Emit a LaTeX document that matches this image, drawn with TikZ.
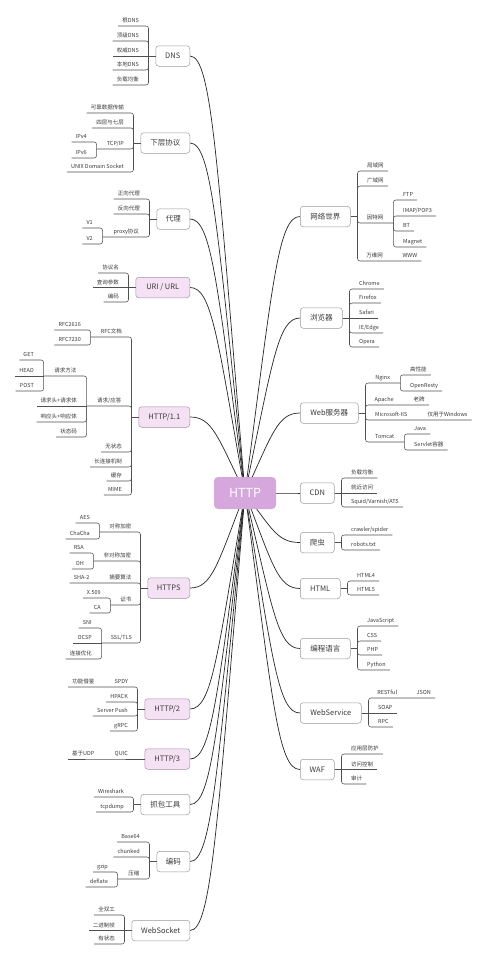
\documentclass[tikz,border=0pt]{standalone}
\usepackage{fontspec}
\setmainfont{Noto Sans CJK SC}
\usetikzlibrary{calc, backgrounds}
\definecolor{hubfill}{HTML}{D6A7DC}
\definecolor{hotfill}{HTML}{F4E2F4}
\definecolor{hotline}{HTML}{A890A8}
\definecolor{topicline}{HTML}{999999}
\definecolor{textgray}{HTML}{3A3A3A}
\definecolor{wiregray}{HTML}{505050}
\definecolor{linkgray}{HTML}{262626}
\tikzset{
  hub/.style={rounded corners=4pt, fill=hubfill, text=white, font=\fontsize{12.5}{14}\selectfont, minimum width=62pt, minimum height=32pt, inner sep=0pt},
  topic/.style={draw=topicline, line width=.5pt, rounded corners=3pt, fill=white, text=textgray, font=\fontsize{7.5}{9}\selectfont, minimum height=20.5pt, inner sep=0pt},
  pinktopic/.style={topic, fill=hotfill, draw=hotline},
  leaf/.style={font=\fontsize{5.5}{6.5}\selectfont, text=textgray, inner xsep=4pt, inner ysep=2pt, text height=4.3pt, text depth=1.2pt},
  midleaf/.style={leaf, inner xsep=0pt},
  wire/.style={draw=wiregray, line width=.55pt, rounded corners=2.5pt},
  link/.style={draw=linkgray, line width=.7pt, to path={let \p1=(\tikztostart), \p2=(\tikztotarget) in .. controls ({\x1+.5*(\x2-\x1)},{\y1+.75*(\y2-\y1)}) and ({\x1+.6*(\x2-\x1)},\y2) .. (\p2)}}
}
\begin{document}
\begin{tikzpicture}[x=1pt, y=-1pt]
\useasboundingbox (0,0) rectangle (490,961);
\node[hub] (http) at (245,493) {HTTP};
% left topics
\node[topic, minimum width=34pt, anchor=east] (dns) at (190,56) {DNS};
\node[topic, minimum width=49pt, anchor=east] (lower) at (190,143) {下层协议};
\node[topic, minimum width=33pt, anchor=east] (proxy) at (190,219) {代理};
\node[pinktopic, minimum width=54pt, anchor=east] (uri) at (190,287.5) {URI / URL};
\node[pinktopic, minimum width=51pt, anchor=east] (h11) at (190,417) {HTTP/1.1};
\node[pinktopic, minimum width=42pt, anchor=east] (https) at (190,588) {HTTPS};
\node[pinktopic, minimum width=45pt, anchor=east] (h2) at (190,709) {HTTP/2};
\node[pinktopic, minimum width=45pt, anchor=east] (h3) at (190,759) {HTTP/3};
\node[topic, minimum width=49pt, anchor=east] (capture) at (190,804.5) {抓包工具};
\node[topic, minimum width=33pt, anchor=east] (encode) at (190,861.5) {编码};
\node[topic, minimum width=58pt, anchor=east] (ws) at (190,930.5) {WebSocket};
% right topics
\node[topic, minimum width=50pt, anchor=west] (net) at (300,216.5) {网络世界};
\node[topic, minimum width=42pt, anchor=west] (browser) at (300,318) {浏览器};
\node[topic, minimum width=58pt, anchor=west] (web) at (300,413) {Web服务器};
\node[topic, minimum width=34pt, anchor=west] (cdn) at (300,493) {CDN};
\node[topic, minimum width=34pt, anchor=west] (crawler) at (300,542.5) {爬虫};
\node[topic, minimum width=40pt, anchor=west] (html) at (300,588.5) {HTML};
\node[topic, minimum width=50pt, anchor=west] (lang) at (300,648.5) {编程语言};
\node[topic, minimum width=61pt, anchor=west] (wsvc) at (300,713) {WebService};
\node[topic, minimum width=34pt, anchor=west] (waf) at (300,769.5) {WAF};

\begin{scope}[on background layer]
\fill[white] (0,0) rectangle (490,961);
\foreach \b in {dns.east, lower.east, proxy.east, uri.east, h11.east, https.east, h2.east, h3.east, capture.east, encode.east, ws.east, net.west, browser.west, web.west, cdn.west, crawler.west, html.west, lang.west, wsvc.west, waf.west}
  \draw[link] (http.center) to (\b);
\end{scope}

% DNS
\node[leaf, anchor=south east] (rootdns) at (143,26) {根DNS};
\node[leaf, anchor=south east] (tlddns) at (143,41) {顶级DNS};
\node[leaf, anchor=south east] (authdns) at (143,56) {权威DNS};
\node[leaf, anchor=south east] (localdns) at (143,70) {本地DNS};
\node[leaf, anchor=south east] (lbdns) at (143,85) {负载均衡};
\draw[wire] (dns.west) -- ++(-7pt,0) coordinate (dnsj);
\draw[wire] (dnsj) |- (rootdns.south west);
\draw[wire] (dnsj) |- (tlddns.south west);
\draw[wire] (dnsj) -- (authdns.south west);
\draw[wire] (dnsj) |- (localdns.south west);
\draw[wire] (dnsj) |- (lbdns.south west);

% lower layers
\node[leaf, anchor=south east] (reliable) at (128,113) {可靠数据传输};
\node[leaf, anchor=south east] (layers) at (128,128) {四层与七层};
\node[midleaf, minimum width=37pt, anchor=south east] (tcpip) at (134,149) {TCP/IP};
\node[leaf, anchor=south east] (ipv4) at (91,142) {IPv4};
\node[leaf, anchor=south east] (ipv6) at (91,158) {IPv6};
\node[leaf, anchor=south east] (unix) at (128,172) {UNIX Domain Socket};
\draw[wire] (lower.west) -- ++(-7pt,0) coordinate (lowerj);
\draw[wire] (lowerj) |- (reliable.south west);
\draw[wire] (lowerj) |- (layers.south west);
\draw[wire] (lowerj) |- (tcpip.south west);
\draw[wire] (lowerj) |- (unix.south west);
\draw[wire] (tcpip.south west) |- (ipv4.south west);
\draw[wire] (tcpip.south west) |- (ipv6.south west);

% proxy
\node[leaf, anchor=south east] (fwd) at (144,199) {正向代理};
\node[leaf, anchor=south east] (rev) at (144,214) {反向代理};
\node[midleaf, minimum width=47pt, anchor=south east] (pproto) at (150,237) {proxy协议};
\node[leaf, anchor=south east] (pv1) at (97,228) {V1};
\node[leaf, anchor=south east] (pv2) at (97,244) {V2};
\draw[wire] (proxy.west) -- ++(-7pt,0) coordinate (proxyj);
\draw[wire] (proxyj) |- (fwd.south west);
\draw[wire] (proxyj) |- (rev.south west);
\draw[wire] (proxyj) |- (pproto.south west);
\draw[wire] (pproto.south west) |- (pv1.south west);
\draw[wire] (pproto.south west) |- (pv2.south west);

% URI / URL
\node[leaf, anchor=south east] (scheme) at (123,273) {协议名};
\node[leaf, anchor=south east] (query) at (123,287.5) {查询参数};
\node[leaf, anchor=south east] (urlenc) at (123,302) {编码};
\draw[wire] (uri.west) -- ++(-7pt,0) coordinate (urij);
\draw[wire] (urij) |- (scheme.south west);
\draw[wire] (urij) -- (query.south west);
\draw[wire] (urij) |- (urlenc.south west);

% HTTP/1.1
\node[midleaf, minimum width=41pt, anchor=south east] (rfc) at (132,337) {RFC文档};
\node[leaf, anchor=south east] (rfc2616) at (85,330) {RFC2616};
\node[leaf, anchor=south east] (rfc7230) at (85,345) {RFC7230};
\node[midleaf, minimum width=45pt, anchor=south east] (reqresp) at (132,406) {请求/应答};
\node[midleaf, minimum width=43pt, anchor=south east] (method) at (87,376) {请求方法};
\node[leaf, anchor=south east] (get) at (38,360) {GET};
\node[leaf, anchor=south east] (head) at (38,376) {HEAD};
\node[leaf, anchor=south east] (post) at (38,391) {POST};
\node[leaf, anchor=south east] (reqbody) at (81,406) {请求头+请求体};
\node[leaf, anchor=south east] (respbody) at (81,422) {响应头+响应体};
\node[leaf, anchor=south east] (status) at (81,437) {状态码};
\node[leaf, anchor=south east] (stateless) at (126,452) {无状态};
\node[leaf, anchor=south east] (keepalive) at (126,467) {长连接机制};
\node[leaf, anchor=south east] (cache) at (126,481) {缓存};
\node[leaf, anchor=south east] (mime) at (126,495) {MIME};
\draw[wire] (h11.west) -- ++(-7pt,0) coordinate (h11j);
\draw[wire] (h11j) |- (rfc.south west);
\draw[wire] (h11j) |- (reqresp.south west);
\draw[wire] (h11j) |- (stateless.south west);
\draw[wire] (h11j) |- (keepalive.south west);
\draw[wire] (h11j) |- (cache.south west);
\draw[wire] (h11j) |- (mime.south west);
\draw[wire] (rfc.south west) |- (rfc2616.south west);
\draw[wire] (rfc.south west) |- (rfc7230.south west);
\draw[wire] (reqresp.south west) |- (method.south west);
\draw[wire] (reqresp.south west) -- (reqbody.south west);
\draw[wire] (reqresp.south west) |- (respbody.south west);
\draw[wire] (reqresp.south west) |- (status.south west);
\draw[wire] (method.south west) |- (get.south west);
\draw[wire] (method.south west) -- (head.south west);
\draw[wire] (method.south west) |- (post.south west);

% HTTPS
\node[midleaf, minimum width=41pt, anchor=south east] (sym) at (141,532) {对称加密};
\node[leaf, anchor=south east] (aes) at (94,523) {AES};
\node[leaf, anchor=south east] (chacha) at (94,539) {ChaCha};
\node[midleaf, minimum width=47pt, anchor=south east] (asym) at (141,561) {非对称加密};
\node[leaf, anchor=south east] (rsa) at (88,553) {RSA};
\node[leaf, anchor=south east] (dh) at (88,569) {DH};
\node[midleaf, minimum width=41pt, anchor=south east] (digest) at (141,583) {摘要算法};
\node[leaf, anchor=south east] (sha) at ([xshift=-6pt]digest.south west) {SHA-2};
\node[midleaf, minimum width=30pt, anchor=south east] (cert) at (141,605) {证书};
\node[leaf, anchor=south east] (x509) at (105,598) {X.509};
\node[leaf, anchor=south east] (ca) at (105,613) {CA};
\node[midleaf, minimum width=39pt, anchor=south east] (tls) at (141,643) {SSL/TLS};
\node[leaf, anchor=south east] (sni) at (96,628) {SNI};
\node[leaf, anchor=south east] (ocsp) at (96,643) {OCSP};
\node[leaf, anchor=south east] (connopt) at (96,659) {连接优化};
\draw[wire] (https.west) -- ++(-7pt,0) coordinate (httpsj);
\draw[wire] (httpsj) |- (sym.south west);
\draw[wire] (httpsj) |- (asym.south west);
\draw[wire] (httpsj) |- (digest.south west) -- (sha.south west);
\draw[wire] (httpsj) |- (cert.south west);
\draw[wire] (httpsj) |- (tls.south west);
\draw[wire] (sym.south west) |- (aes.south west);
\draw[wire] (sym.south west) |- (chacha.south west);
\draw[wire] (asym.south west) |- (rsa.south west);
\draw[wire] (asym.south west) |- (dh.south west);
\draw[wire] (cert.south west) |- (x509.south west);
\draw[wire] (cert.south west) |- (ca.south west);
\draw[wire] (tls.south west) |- (sni.south west);
\draw[wire] (tls.south west) -- (ocsp.south west);
\draw[wire] (tls.south west) |- (connopt.south west);

% HTTP/2
\node[midleaf, minimum width=33pt, anchor=south east] (spdy) at (138,687) {SPDY};
\node[leaf, anchor=south east] (borrow) at ([xshift=-6pt]spdy.south west) {功能借鉴};
\node[leaf, anchor=south east] (hpack) at (132,702) {HPACK};
\node[leaf, anchor=south east] (push) at (132,716) {Server Push};
\node[leaf, anchor=south east] (grpc) at (132,731) {gRPC};
\draw[wire] (h2.west) -- ++(-7pt,0) coordinate (h2j);
\draw[wire] (h2j) |- (spdy.south west) -- (borrow.south west);
\draw[wire] (h2j) |- (hpack.south west);
\draw[wire] (h2j) |- (push.south west);
\draw[wire] (h2j) |- (grpc.south west);

% HTTP/3
\node[midleaf, minimum width=33pt, anchor=south east] (quic) at (138,759) {QUIC};
\node[leaf, anchor=south east] (udp) at ([xshift=-6pt]quic.south west) {基于UDP};
\draw[wire] (h3.west) -- (quic.south west) -- (udp.south west);

% capture tools
\node[leaf, anchor=south east] (wireshark) at (128,797) {Wireshark};
\node[leaf, anchor=south east] (tcpdump) at (128,812) {tcpdump};
\draw[wire] (capture.west) -- ++(-7pt,0) coordinate (capturej);
\draw[wire] (capturej) |- (wireshark.south west);
\draw[wire] (capturej) |- (tcpdump.south west);

% encoding
\node[leaf, anchor=south east] (base64) at (144,842) {Base64};
\node[leaf, anchor=south east] (chunked) at (144,857) {chunked};
\node[midleaf, minimum width=32pt, anchor=south east] (compress) at (150,879) {压缩};
\node[leaf, anchor=south east] (gzip) at (112,872) {gzip};
\node[leaf, anchor=south east] (deflate) at (112,887) {deflate};
\draw[wire] (encode.west) -- ++(-7pt,0) coordinate (encodej);
\draw[wire] (encodej) |- (base64.south west);
\draw[wire] (encodej) |- (chunked.south west);
\draw[wire] (encodej) |- (compress.south west);
\draw[wire] (compress.south west) |- (gzip.south west);
\draw[wire] (compress.south west) |- (deflate.south west);

% WebSocket
\node[leaf, anchor=south east] (duplex) at (119,915) {全双工};
\node[leaf, anchor=south east] (frame) at (119,930.5) {二进制帧};
\node[leaf, anchor=south east] (stateful) at (119,944) {有状态};
\draw[wire] (ws.west) -- ++(-7pt,0) coordinate (wsj);
\draw[wire] (wsj) |- (duplex.south west);
\draw[wire] (wsj) -- (frame.south west);
\draw[wire] (wsj) |- (stateful.south west);

% network world
\node[leaf, anchor=south west] (lan) at (363,171) {局域网};
\node[leaf, anchor=south west] (wan) at (363,186) {广域网};
\node[midleaf, minimum width=36pt, anchor=south west] (inet) at (357,223) {因特网};
\node[leaf, anchor=south west] (ftp) at (399,200) {FTP};
\node[leaf, anchor=south west] (imap) at (399,216) {IMAP/POP3};
\node[leaf, anchor=south west] (bt) at (399,231) {BT};
\node[leaf, anchor=south west] (magnet) at (399,247) {Magnet};
\node[midleaf, minimum width=35pt, anchor=south west] (wweb) at (357,261) {万维网};
\node[leaf, anchor=south west] (www) at ([xshift=6pt]wweb.south east) {WWW};
\draw[wire] (net.east) -- ++(7pt,0) coordinate (netj);
\draw[wire] (netj) |- (lan.south east);
\draw[wire] (netj) |- (wan.south east);
\draw[wire] (netj) |- (inet.south east);
\draw[wire] (netj) |- (wweb.south east) -- (www.south east);
\draw[wire] (inet.south east) |- (ftp.south east);
\draw[wire] (inet.south east) |- (imap.south east);
\draw[wire] (inet.south east) |- (bt.south east);
\draw[wire] (inet.south east) |- (magnet.south east);

% browsers
\node[leaf, anchor=south west] (chrome) at (355,289) {Chrome};
\node[leaf, anchor=south west] (firefox) at (355,303) {Firefox};
\node[leaf, anchor=south west] (safari) at (355,318) {Safari};
\node[leaf, anchor=south west] (edge) at (355,333) {IE/Edge};
\node[leaf, anchor=south west] (opera) at (355,347) {Opera};
\draw[wire] (browser.east) -- ++(7pt,0) coordinate (browserj);
\draw[wire] (browserj) |- (chrome.south east);
\draw[wire] (browserj) |- (firefox.south east);
\draw[wire] (browserj) -- (safari.south east);
\draw[wire] (browserj) |- (edge.south east);
\draw[wire] (browserj) |- (opera.south east);

% web servers
\node[midleaf, minimum width=35pt, anchor=south west] (nginx) at (365,383) {Nginx};
\node[leaf, anchor=south west] (fast) at (406,375) {高性能};
\node[leaf, anchor=south west] (openresty) at (406,391) {OpenResty};
\node[midleaf, minimum width=38pt, anchor=south west] (apache) at (365,405) {Apache};
\node[leaf, anchor=south west] (oldbrand) at ([xshift=6pt]apache.south east) {老牌};
\node[midleaf, minimum width=52pt, anchor=south west] (iis) at (365,420) {Microsoft-IIS};
\node[leaf, anchor=south west] (winonly) at ([xshift=6pt]iis.south east) {仅用于Windows};
\node[midleaf, minimum width=39pt, anchor=south west] (tomcat) at (365,442) {Tomcat};
\node[leaf, anchor=south west] (java) at (410,434) {Java};
\node[leaf, anchor=south west] (servlet) at (410,450) {Servlet容器};
\draw[wire] (web.east) -- ++(7pt,0) coordinate (webj);
\draw[wire] (webj) |- (nginx.south east);
\draw[wire] (webj) |- (apache.south east) -- (oldbrand.south east);
\draw[wire] (webj) |- (iis.south east) -- (winonly.south east);
\draw[wire] (webj) |- (tomcat.south east);
\draw[wire] (nginx.south east) |- (fast.south east);
\draw[wire] (nginx.south east) |- (openresty.south east);
\draw[wire] (tomcat.south east) |- (java.south east);
\draw[wire] (tomcat.south east) |- (servlet.south east);

% CDN
\node[leaf, anchor=south west] (lb) at (347,478) {负载均衡};
\node[leaf, anchor=south west] (near) at (347,493) {就近访问};
\node[leaf, anchor=south west] (squid) at (347,507) {Squid/Varnish/ATS};
\draw[wire] (cdn.east) -- ++(7pt,0) coordinate (cdnj);
\draw[wire] (cdnj) |- (lb.south east);
\draw[wire] (cdnj) -- (near.south east);
\draw[wire] (cdnj) |- (squid.south east);

% crawler
\node[leaf, anchor=south west] (spider) at (347,535) {crawler/spider};
\node[leaf, anchor=south west] (robots) at (347,550) {robots.txt};
\draw[wire] (crawler.east) -- ++(7pt,0) coordinate (crawlerj);
\draw[wire] (crawlerj) |- (spider.south east);
\draw[wire] (crawlerj) |- (robots.south east);

% HTML
\node[leaf, anchor=south west] (html4) at (353,581) {HTML4};
\node[leaf, anchor=south west] (html5) at (353,595) {HTML5};
\draw[wire] (html.east) -- ++(7pt,0) coordinate (htmlj);
\draw[wire] (htmlj) |- (html4.south east);
\draw[wire] (htmlj) |- (html5.south east);

% languages
\node[leaf, anchor=south west] (js) at (363,626) {JavaScript};
\node[leaf, anchor=south west] (css) at (363,641) {CSS};
\node[leaf, anchor=south west] (php) at (363,655) {PHP};
\node[leaf, anchor=south west] (python) at (363,670) {Python};
\draw[wire] (lang.east) -- ++(7pt,0) coordinate (langj);
\draw[wire] (langj) |- (js.south east);
\draw[wire] (langj) |- (css.south east);
\draw[wire] (langj) |- (php.south east);
\draw[wire] (langj) |- (python.south east);

% WebService
\node[midleaf, minimum width=38pt, anchor=south west] (rest) at (368,698) {RESTful};
\node[leaf, anchor=south west] (json) at ([xshift=6pt]rest.south east) {JSON};
\node[leaf, anchor=south west] (soap) at (374,713) {SOAP};
\node[leaf, anchor=south west] (rpc) at (374,727) {RPC};
\draw[wire] (wsvc.east) -- ++(7pt,0) coordinate (wsvcj);
\draw[wire] (wsvcj) |- (rest.south east) -- (json.south east);
\draw[wire] (wsvcj) -- (soap.south east);
\draw[wire] (wsvcj) |- (rpc.south east);

% WAF
\node[leaf, anchor=south west] (appguard) at (347,754) {应用层防护};
\node[leaf, anchor=south west] (acl) at (347,769.5) {访问控制};
\node[leaf, anchor=south west] (audit) at (347,784) {审计};
\draw[wire] (waf.east) -- ++(7pt,0) coordinate (wafj);
\draw[wire] (wafj) |- (appguard.south east);
\draw[wire] (wafj) -- (acl.south east);
\draw[wire] (wafj) |- (audit.south east);
\end{tikzpicture}
\end{document}
